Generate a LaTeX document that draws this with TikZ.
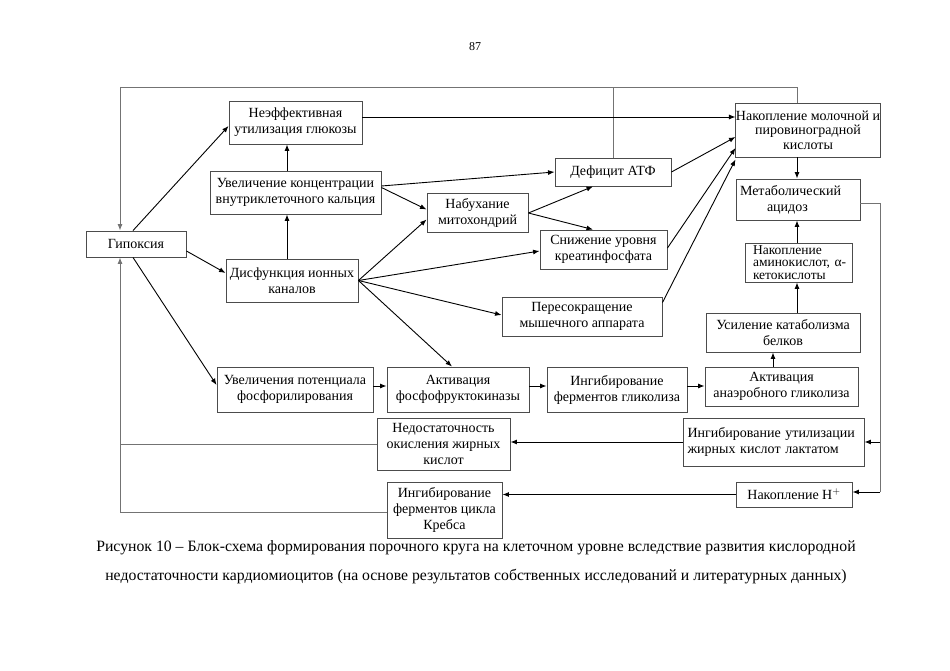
\documentclass[tikz,border=0pt]{standalone}
\usepackage{fontspec}
\setmainfont{Liberation Serif}
\newfontfamily\srf{Liberation Serif}
\usetikzlibrary{arrows.meta,calc}
\begin{document}
\begin{tikzpicture}[x=1pt,y=-1pt,
  box/.style={draw=black!70, line width=0.9pt, inner sep=0pt, align=center, font=\srf\fontsize{14}{16}\selectfont},
  arr/.style={line width=0.9pt, -{Latex[length=6.5pt,width=5pt]}},
  loopline/.style={draw=black!55, line width=0.9pt},
  looparr/.style={draw=black!55, line width=0.9pt, -{Latex[length=6.5pt,width=5pt]}}]
\useasboundingbox (0,0) rectangle (950,671);
% page number
\node[font=\srf\fontsize{12}{14}\selectfont] (pnum) at (475,47) {87};
% boxes
\node[box, minimum width=100, minimum height=26] (gip) at (136,244) {Гипоксия};
\node[box, minimum width=133, minimum height=43] (neef) at (295.5,122.5) {Неэффективная\\утилизация глюкозы};
\node[box, minimum width=171, minimum height=43] (ca) at (295.5,192.5) {Увеличение концентрации\\внутриклеточного кальция};
\node[box, minimum width=132, minimum height=43] (dis) at (292,280.5) {Дисфункция ионных\\каналов};
\node[box, minimum width=116, minimum height=28] (atp) at (613,172) {Дефицит АТФ};
\node[box, minimum width=101, minimum height=39] (nab) at (477.5,212.5) {Набухание\\митохондрий};
\node[box, minimum width=127, minimum height=39] (kf) at (603.5,249.5) {Снижение уровня\\креатинфосфата};
\node[box, minimum width=160, minimum height=39] (per) at (582,316.5) {Пересокращение\\мышечного аппарата};
\node[box, minimum width=144, minimum height=54, font=\srf\fontsize{14}{14.5}\selectfont] (lac) at (808,130) {Накопление молочной и\\пировиноградной\\кислоты};
\node[box, minimum width=124, minimum height=41, text width=116, align=left] (acid) at (798,199.5) {Метаболический\\\hspace*{27pt}ацидоз};
\node[box, minimum width=107, minimum height=39, text width=101, align=left, font=\srf\fontsize{13.5}{12.5}\selectfont] (amino) at (798.5,262.5) {\hspace*{5pt}Накопление\\\hspace*{5pt}аминокислот, α-\\\hspace*{5pt}кетокислоты};
\node[box, minimum width=154, minimum height=39] (kat) at (783,332.5) {Усиление катаболизма\\белков};
\node[box, minimum width=153, minimum height=39] (anaer) at (781.5,386.5) {Активация\\анаэробного гликолиза};
\node[box, minimum width=156, minimum height=45] (pot) at (295,389.5) {Увеличения потенциала\\фосфорилирования};
\node[box, minimum width=142, minimum height=45] (pfk) at (458,389.5) {Активация\\фосфофруктокиназы};
\node[box, minimum width=140, minimum height=45] (glyc) at (617,389.5) {Ингибирование\\ферментов гликолиза};
\node[box, minimum width=181, minimum height=48, text width=172, align=left] (lipu) at (773.5,442) {Ингибирование утилизации\\жирных кислот лактатом};
\node[box, minimum width=133, minimum height=52] (ned) at (443.5,444) {Недостаточность\\окисления жирных\\кислот};
\node[box, minimum width=116, minimum height=25] (hplus) at (794,494.5) {Накопление Н$^{+}$};
\node[box, minimum width=115, minimum height=56] (kreb) at (444.5,510) {Ингибирование\\ферментов цикла\\Кребса};
% caption
\node[font=\srf\fontsize{15.75}{29}\selectfont, align=center] (cap) at (476,562.5) {Рисунок 10 – Блок-схема формирования порочного круга на клеточном уровне вследствие развития кислородной\\недостаточности кардиомиоцитов (на основе результатов собственных исследований и литературных данных)};
% helper coordinates
\coordinate (tl) at (120,87);
\coordinate (tr) at (797,87);
\coordinate (bl) at (120,512);
\coordinate (rr) at (880,203);
\coordinate (rb) at (880,492);
\coordinate (v1) at (287,0);
\coordinate (v2) at (773,0);
\coordinate (h1) at (0,386);
% loops
\draw[loopline] (lac.north -| tr) -- (tr) -- (tl);
\draw[looparr] (tl) -- (gip.north -| tl);
\draw[loopline] (atp.north) -- (atp.north |- tl);
\draw[loopline] (ned.west) -- (ned.west -| tl);
\draw[looparr] (kreb.west |- bl) -- (bl) -- (gip.south -| bl);
\draw[loopline] (acid.east |- rr) -- (rr) -- (rb);
\draw[arr] (rb) -- (hplus.east |- rb);
\draw[arr] (lipu.east -| rr) -- (lipu.east);
% arrows from Гипоксия
\draw[arr] ($(gip.north)+(-3,0)$) -- ($(neef.west)+(0,3.5)$);
\draw[arr] ($(gip.east)+(0,7)$) -- ($(dis.west)+(0,-7.5)$);
\draw[arr] ($(gip.south)+(-3,0)$) -- ($(pot.west)+(0,-4.5)$);
% vertical arrows left
\draw[arr] (dis.north -| v1) -- (ca.south -| v1);
\draw[arr] (ca.north -| v1) -- (neef.south -| v1);
% from calcium
\draw[arr] ($(ca.east)+(0,-6.5)$) -- (atp.west);
\draw[arr] ($(ca.east)+(0,-5)$) -- ($(nab.west)+(0,-3)$);
% from dysfunction
\draw[arr] (dis.east) -- ($(nab.west)+(0,7)$);
\draw[arr] (dis.east) -- ($(kf.west)+(0,1.5)$);
\draw[arr] (dis.east) -- ($(per.west)+(0,-1.5)$);
\draw[arr] (dis.east) -- ($(pfk.north)+(-6,0)$);
% from mitochondria
\draw[arr] ($(nab.east)+(0,0.5)$) -- ($(atp.south)+(-20,0)$);
\draw[arr] ($(nab.east)+(0,0.5)$) -- ($(kf.north)+(-10.5,0)$);
% into lactate
\draw[arr] ($(neef.east)+(0,-5.5)$) -- ($(lac.west)+(0,-13)$);
\draw[arr] (atp.east) -- ($(lac.west)+(0,7)$);
\draw[arr] ($(kf.east)+(0,-1.5)$) -- ($(lac.west)+(0,18)$);
\draw[arr] ($(per.north east)+(0,6)$) -- ($(lac.south west)+(0,2)$);
% right column
\draw[arr] (lac.south -| tr) -- (acid.north -| tr);
\draw[arr] (amino.north -| tr) -- (acid.south -| tr);
\draw[arr] (kat.north -| tr) -- (amino.south -| tr);
\draw[arr] (anaer.north -| v2) -- (kat.south -| v2);
% bottom chain
\draw[arr] (pot.east |- h1) -- (pfk.west |- h1);
\draw[arr] (pfk.east |- h1) -- (glyc.west |- h1);
\draw[arr] (glyc.east |- h1) -- (anaer.west |- h1);
% back arrows
\draw[arr] (lipu.west) -- (ned.east |- lipu.west);
\draw[arr] (hplus.west) -- (kreb.east |- hplus.west);
\end{tikzpicture}
\end{document}
